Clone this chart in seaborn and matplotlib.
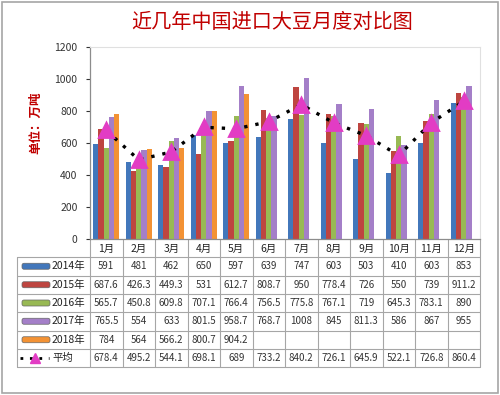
import numpy as np
import pandas as pd
import seaborn as sns
import matplotlib.pyplot as plt
from matplotlib.patches import Rectangle, FancyBboxPatch

# data
months = ['1月', '2月', '3月', '4月', '5月', '6月', '7月', '8月', '9月', '10月', '11月', '12月']
years = ['2014年', '2015年', '2016年', '2017年', '2018年']
v2014 = [591, 481, 462, 650, 597, 639, 747, 603, 503, 410, 603, 853]
v2015 = [687.6, 426.3, 449.3, 531, 612.7, 808.7, 950, 778.4, 726, 550, 739, 911.2]
v2016 = [565.7, 450.8, 609.8, 707.1, 766.4, 756.5, 775.8, 767.1, 719, 645.3, 783.1, 890]
v2017 = [765.5, 554, 633, 801.5, 958.7, 768.7, 1008, 845, 811.3, 586, 867, 955]
v2018 = [784, 564, 566.2, 800.7, 904.2] + [np.nan] * 7
avg = [678.4, 495.2, 544.1,698.1, 689, 733.2, 840.2, 726.1, 645.9, 522.1, 726.8, 860.4]

colors = ['#4277BB', '#BE4540', '#98B954', '#A47FC8', '#F39234']
avg_color = '#E23CC4'

sns.set_style('white')
plt.rcParams['font.family'] = ['Noto Sans CJK SC', 'DejaVu Sans']

series = [v2014, v2015, v2016, v2017, v2018]
df = pd.DataFrame({
    'month': np.tile(months, len(years)),
    'year': np.repeat(years, len(months)),
    'value': np.concatenate(series),
})

fig = plt.figure(figsize=(5, 3.95), dpi=100)

# table / frame layer in pixel coords
axt = fig.add_axes([0, 0, 1, 1], zorder=0)
axt.set_xlim(0, 500)
axt.set_ylim(395, 0)
axt.axis('off')

ax = fig.add_axes([0.18, 1 - 239 / 395, 0.78, 192 / 395], zorder=1)
ax.patch.set_alpha(0)

sns.barplot(data=df, x='month', y='value', hue='year', order=months, hue_order=years,
            palette=colors, saturation=1, width=0.8, legend=False, ax=ax,
            edgecolor='none', linewidth=0)
sns.pointplot(x=months, y=avg, color='black', marker='', linestyle=(0, (1, 2.4)),
              linewidth=2.4, errorbar=None, ax=ax)
sns.pointplot(x=months, y=avg, color=avg_color, marker='^', markersize=10,
              linestyle='none', errorbar=None, ax=ax)

ax.set_xlim(-0.5, 11.5)
ax.set_ylim(0, 1200)
ax.set_yticks(range(0, 1201, 200))
ax.tick_params(axis='y', labelsize=7.5, colors='#333333', length=3, width=0.8, left=True, pad=6)
ax.tick_params(axis='x', bottom=False, labelbottom=False)
ax.set_xlabel('')
ax.set_ylabel('')
for s in ['left', 'bottom']:
    ax.spines[s].set_color('#8C8C8C')
    ax.spines[s].set_linewidth(0.9)
for s in ['top', 'right']:
    ax.spines[s].set_color('#E0E0E0')
    ax.spines[s].set_linewidth(0.8)

fig.text(0.545, 0.944, '近几年中国进口大豆月度对比图', ha='center', va='center',
         fontsize=14.5, color='#C00000')
fig.text(0.072, 0.69, '单位：万吨', ha='center', va='center', rotation=90,
         fontsize=9, color='#C00000', fontweight='bold')

# data table
x0, cw = 90, 32.5
row_y = [257, 275.5, 294, 312, 330.5, 349, 367]
lc = '#A6A6A6'
for i in range(13):
    axt.plot([x0 + i * cw] * 2, [239, 367], color=lc, lw=0.8)
for y in row_y:
    axt.plot([17, x0 + 12 * cw], [y, y], color=lc, lw=0.8)
axt.plot([17, 17], [257, 367], color=lc, lw=0.8)

for i, m in enumerate(months):
    axt.text(x0 + (i + 0.5) * cw, 248.5, m, ha='center', va='center', fontsize=7.5, color='#222222')

for r, (yr, vals, c) in enumerate(zip(years, series, colors)):
    yc = (row_y[r] + row_y[r + 1]) / 2
    axt.add_patch(FancyBboxPatch((22, yc - 3), 28, 6, boxstyle='round,pad=0,rounding_size=2',
                                 facecolor=c, edgecolor='#666666', lw=0.5))
    axt.text(52, yc, yr, ha='left', va='center', fontsize=7.5, color='#222222')
    for i, v in enumerate(vals):
        if not np.isnan(v):
            axt.text(x0 + (i + 0.5) * cw, yc, f'{v:g}', ha='center', va='center',
                     fontsize=7, color='#333333')

yc = (row_y[5] + row_y[6]) / 2
axt.plot([20, 49], [yc, yc], color='black', lw=2, linestyle=(0, (1, 2.4)))
axt.plot([35], [yc - 0.5], marker='^', color=avg_color, markersize=7)
axt.text(52, yc, '平均', ha='left', va='center', fontsize=7.5, color='#222222')
for i, v in enumerate(avg):
    axt.text(x0 + (i + 0.5) * cw, yc, f'{v:g}', ha='center', va='center',
             fontsize=7, color='#333333')

axt.add_patch(Rectangle((2, 2), 496, 391, fill=False, edgecolor='#A6A6A6', lw=1.2))

fig.savefig('out.png', dpi=100)
